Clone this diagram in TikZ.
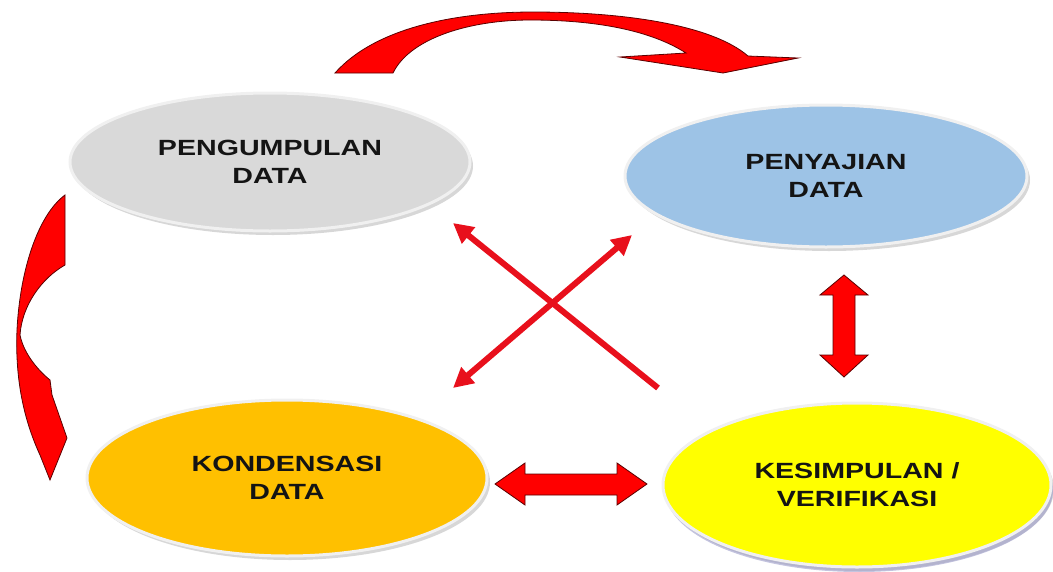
\documentclass[tikz,border=0pt]{standalone}
\usepackage{fontspec}
\usepackage{graphicx}
\setmainfont{Liberation Sans}
\usetikzlibrary{arrows.meta,shadows,shapes.geometric}
\definecolor{ggray}{HTML}{D9D9D9}
\definecolor{gblue}{HTML}{9DC3E6}
\definecolor{gorange}{HTML}{FFC000}
\definecolor{gyellow}{HTML}{FFFF00}
\definecolor{bred}{HTML}{FF0000}
\definecolor{xred}{HTML}{E8101C}
\definecolor{edgered}{HTML}{5A0000}
\definecolor{txt}{HTML}{141414}
\newcommand\sx[1]{\scalebox{1.3}[1]{#1}}
\tikzset{
  ell/.style={ellipse, draw=white!88!gray, line width=3pt, align=center,
    font=\fontsize{22}{28}\selectfont\bfseries, text=txt,
    drop shadow={shadow xshift=3pt, shadow yshift=-4pt, fill=gray!70, opacity=0.45}},
  blockarrow/.style={fill=bred, draw=edgered, line width=0.8pt, line join=miter},
  xarrow/.style={draw=xred, line width=6pt, -{Triangle[length=20pt,width=20pt]}},
  xarrowboth/.style={draw=xred, line width=6pt, {Triangle[length=20pt,width=20pt]}-{Triangle[length=20pt,width=20pt]}}
}
\begin{document}
\begin{tikzpicture}[x=1pt,y=-1pt]
\useasboundingbox (0,0) rectangle (1053,571);
% ellipses
\node[ell, fill=ggray, minimum width=400pt, minimum height=138pt] (peng) at (270,162) {\sx{PENGUMPULAN}\\\sx{DATA}};
\node[ell, fill=gblue, minimum width=402pt, minimum height=142pt] (peny) at (826,176) {\sx{PENYAJIAN}\\\sx{DATA}};
\node[ell, fill=gorange, minimum width=400pt, minimum height=156pt] (kond) at (287,478) {\sx{KONDENSASI}\\\sx{DATA}};
\node[ell, fill=gyellow, minimum width=388pt, minimum height=164pt,
  drop shadow={shadow xshift=2pt, shadow yshift=-5pt, fill=blue!30!gray!60, opacity=0.6}] (kesi) at (857,485) {\sx{KESIMPULAN /}\\\sx{VERIFIKASI}};
% top curved arrow
\draw[blockarrow] (335,73) .. controls (375,28) and (455,12) .. (533,12)
  .. controls (625,12) and (712,25) .. (748,56) -- (798,58) -- (723,73) -- (620,57) -- (686,53)
  .. controls (650,30) and (595,20) .. (530,20) .. controls (470,20) and (410,38) .. (393,73) -- cycle;
% left curved arrow
\draw[blockarrow] (65,195) -- (65,265) .. controls (42,278) and (22,305) .. (20,335)
  .. controls (24,355) and (40,372) .. (50,380) -- (52,395) -- (67,438) -- (50,480) -- (40,455)
  .. controls (24,420) and (15,380) .. (17,330) .. controls (20,270) and (38,215) .. (65,195) -- cycle;
% cross arrows
\coordinate (c1s) at (658,388);
\coordinate (c1e) at (453,223);
\coordinate (c2s) at (453,388);
\coordinate (c2e) at (632,235);
\draw[xarrow] (c1s) -- (c1e);
\draw[xarrowboth] (c2s) -- (c2e);
% horizontal double block arrow
\coordinate (h) at (571,484);
\draw[blockarrow] ([shift={(-76,0)}]h) -- ([shift={(-46,-21)}]h) -- ([shift={(-46,-10)}]h) -- ([shift={(46,-10)}]h)
  -- ([shift={(46,-21)}]h) -- ([shift={(76,0)}]h) -- ([shift={(46,21)}]h) -- ([shift={(46,11)}]h)
  -- ([shift={(-46,11)}]h) -- ([shift={(-46,21)}]h) -- cycle;
% vertical double block arrow
\coordinate (v) at (844,326);
\draw[blockarrow] ([shift={(0,-51)}]v) -- ([shift={(24,-31)}]v) -- ([shift={(11,-31)}]v) -- ([shift={(11,29)}]v)
  -- ([shift={(24,29)}]v) -- ([shift={(0,51)}]v) -- ([shift={(-24,29)}]v) -- ([shift={(-11,29)}]v)
  -- ([shift={(-11,-31)}]v) -- ([shift={(-24,-31)}]v) -- cycle;
\end{tikzpicture}
\end{document}
